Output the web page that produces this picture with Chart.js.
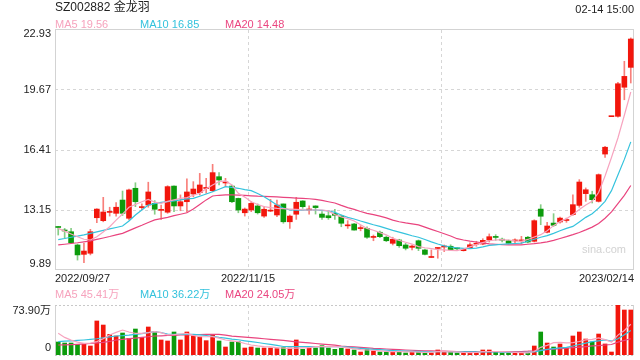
<!DOCTYPE html>
<html lang="zh-CN">
  <head>
    <meta charset="UTF-8" />
    <title>SZ002882 金龙羽</title>
    <script src="https://cdn.jsdelivr.net/npm/chart.js"></script>
    <style>
      body {
        margin: 0;
        background: #fff;
        font-family: "Liberation Sans", Arial, "Noto Sans CJK SC", sans-serif;
      }
      #wrap {
        position: relative;
        width: 640px;
        height: 360px;
        overflow: hidden;
      }
      canvas {
        position: absolute;
        left: 0;
      }
      #kline { top: 0; }
      #vol { top: 290px; }
      .txt {
        position: absolute;
        white-space: nowrap;
        line-height: 14px;
        font-size: 11px;
      }
      .ma5 { color: #f6a3bd; }
      .ma10 { color: #33c2dc; }
      .ma20 { color: #ea4680; }
    </style>
  </head>
  <body>
    <div id="wrap">
      <canvas id="kline" width="640" height="290"></canvas>
      <canvas id="vol" width="640" height="70"></canvas>

      <div class="txt" style="left:55px; top:0px; font-size:12px; color:#222">SZ002882 金龙羽</div>
      <div class="txt" style="right:6px; top:2px; color:#222">02-14 15:00</div>

      <div class="txt ma5" id="lg5" style="left:55px; top:17px"></div>
      <div class="txt ma10" id="lg10" style="left:140px; top:17px"></div>
      <div class="txt ma20" id="lg20" style="left:225px; top:17px"></div>

      <div class="txt ma5" id="vlg5" style="left:55px; top:287px"></div>
      <div class="txt ma10" id="vlg10" style="left:140px; top:287px"></div>
      <div class="txt ma20" id="vlg20" style="left:225px; top:287px"></div>

      <div class="txt" style="left:582px; top:242px; color:#d2d2d2; font-size:11px">sina.com</div>
    </div>

    <script>
      // trading days shown
      const dates = [
        "2022/09/27","2022/09/28","2022/09/29","2022/09/30",
        "2022/10/10","2022/10/11","2022/10/12","2022/10/13","2022/10/14",
        "2022/10/17","2022/10/18","2022/10/19","2022/10/20","2022/10/21",
        "2022/10/24","2022/10/25","2022/10/26","2022/10/27","2022/10/28","2022/10/31",
        "2022/11/01","2022/11/02","2022/11/03","2022/11/04",
        "2022/11/07","2022/11/08","2022/11/09","2022/11/10","2022/11/11",
        "2022/11/14","2022/11/15","2022/11/16","2022/11/17","2022/11/18",
        "2022/11/21","2022/11/22","2022/11/23","2022/11/24","2022/11/25",
        "2022/11/28","2022/11/29","2022/11/30",
        "2022/12/01","2022/12/02",
        "2022/12/05","2022/12/06","2022/12/07","2022/12/08","2022/12/09",
        "2022/12/12","2022/12/13","2022/12/14","2022/12/15","2022/12/16",
        "2022/12/19","2022/12/20","2022/12/21","2022/12/22","2022/12/23",
        "2022/12/26","2022/12/27","2022/12/28","2022/12/29","2022/12/30",
        "2023/01/03","2023/01/04","2023/01/05","2023/01/06",
        "2023/01/09","2023/01/10","2023/01/11","2023/01/12","2023/01/13",
        "2023/01/16","2023/01/17","2023/01/18","2023/01/19","2023/01/20",
        "2023/01/30","2023/01/31",
        "2023/02/01","2023/02/02","2023/02/03",
        "2023/02/06","2023/02/07","2023/02/08","2023/02/09","2023/02/10",
        "2023/02/13","2023/02/14"
      ];

      const open = [
        12.25,12.03,11.97,11.25,10.74,10.80,12.73,12.57,13.02,12.97,
        13.69,12.70,14.33,13.28,13.42,13.51,13.13,13.03,14.45,13.37,
        13.60,14.02,14.09,14.32,14.20,14.96,14.62,14.45,13.78,13.00,
        13.15,13.37,12.82,13.09,12.88,13.48,12.51,12.92,13.64,13.15,
        13.37,12.93,12.84,12.97,12.82,12.29,12.39,12.14,12.15,11.66,
        11.94,11.67,11.34,11.52,11.25,11.12,11.48,10.98,10.57,11.06,
        11.14,11.18,11.06,10.94,11.08,11.29,11.30,11.52,11.68,11.53,
        11.48,11.47,11.47,11.67,11.45,13.20,11.94,12.44,12.50,12.58,
        12.90,13.40,14.04,13.98,13.62,16.19,18.22,18.24,19.82,20.90
      ];
      const high = [
        12.26,12.15,12.15,11.30,11.34,12.10,13.22,13.84,13.30,13.55,
        14.18,14.29,14.63,13.48,14.66,13.66,13.42,14.47,14.47,13.97,
        14.85,14.69,15.14,14.87,15.63,15.18,14.87,14.51,13.80,13.26,
        13.60,13.48,13.33,13.73,13.69,13.48,12.88,13.84,13.66,13.37,
        13.38,13.06,13.10,13.19,12.88,12.57,12.43,12.30,12.24,11.79,
        12.01,11.74,11.67,11.56,11.34,11.25,11.52,11.03,10.98,11.10,
        11.25,11.26,11.10,11.05,11.36,11.45,11.59,11.85,11.81,11.63,
        11.52,11.59,11.72,11.72,12.62,13.44,12.48,12.95,12.77,12.71,
        13.98,14.80,14.35,14.17,15.11,16.61,18.24,20.09,21.23,22.50
      ];
      const low = [
        11.79,11.61,11.33,10.43,10.29,10.71,12.46,12.51,12.82,12.82,
        12.85,12.61,13.33,13.15,13.30,12.92,12.64,12.97,13.06,13.11,
        13.03,13.87,13.97,14.06,14.14,14.51,14.42,13.55,13.00,12.82,
        13.06,12.93,12.75,13.06,12.79,12.43,12.15,12.64,13.24,12.93,
        12.93,12.64,12.64,12.64,12.24,12.15,12.05,12.02,11.61,11.48,
        11.65,11.43,11.25,11.12,10.98,10.98,10.94,10.71,10.57,10.53,
        10.89,10.94,10.99,10.92,11.05,11.18,11.26,11.41,11.50,11.41,
        11.30,11.36,11.30,11.36,11.41,12.35,11.90,12.26,12.44,12.48,
        12.86,13.30,13.62,13.53,13.58,16.01,18.22,18.20,19.14,20.05
      ];
      const close = [
        12.20,12.01,11.37,10.71,10.92,11.97,13.20,13.04,13.05,13.30,
        12.97,14.24,13.60,13.31,14.13,13.19,13.16,14.42,13.37,13.60,
        14.13,14.29,14.51,14.35,15.18,14.78,14.64,13.60,13.15,13.20,
        13.51,13.00,13.19,13.11,13.42,12.51,12.82,13.57,13.33,13.17,
        13.28,12.75,12.73,12.86,12.43,12.31,12.06,12.16,11.67,11.68,
        11.70,11.48,11.56,11.21,11.07,11.19,11.07,10.74,10.58,11.08,
        11.16,10.99,11.04,11.01,11.26,11.31,11.50,11.70,11.66,11.51,
        11.34,11.49,11.50,11.41,12.57,12.81,12.28,12.32,12.71,12.60,
        13.44,14.67,14.25,13.71,15.07,16.56,18.24,20.01,20.41,22.44
      ];

      const ma5 = [
        12.15,12.00,11.85,11.70,11.56,11.52,11.70,11.95,12.24,12.60,
        12.93,13.30,13.45,13.60,13.72,13.58,13.51,13.62,13.70,13.78,
        13.82,13.95,14.06,14.30,14.51,14.69,14.73,14.51,14.06,13.85,
        13.60,13.45,13.33,13.28,13.24,13.22,13.20,13.18,13.16,13.15,
        13.15,13.15,13.10,12.90,12.78,12.68,12.55,12.35,12.15,12.05,
        11.92,11.80,11.61,11.50,11.40,11.30,11.16,11.10,11.05,11.00,
        10.98,10.96,10.94,11.03,11.15,11.27,11.38,11.48,11.52,11.54,
        11.52,11.48,11.45,11.55,11.68,11.81,12.02,12.30,12.52,12.68,
        12.90,13.18,13.42,13.62,14.10,15.00,16.00,17.06,18.30,19.56
      ];
      const ma10 = [
        11.54,11.60,11.67,11.73,11.80,11.88,11.96,12.04,12.12,12.20,
        12.28,12.55,12.88,13.15,13.42,13.50,13.56,13.60,13.65,13.70,
        13.75,13.78,13.90,14.02,14.14,14.28,14.42,14.38,14.33,14.26,
        14.20,14.05,13.87,13.65,13.42,13.25,13.15,13.14,13.14,13.15,
        13.15,13.13,13.10,13.02,12.88,12.75,12.66,12.55,12.45,12.35,
        12.26,12.15,12.04,11.95,11.85,11.75,11.67,11.55,11.42,11.30,
        11.20,11.14,11.09,11.07,11.05,11.08,11.15,11.23,11.26,11.29,
        11.31,11.33,11.35,11.45,11.56,11.67,11.76,11.88,12.02,12.15,
        12.26,12.50,12.75,12.95,13.25,13.62,14.20,15.05,15.90,16.85
      ];
      const ma20 = [
        11.25,11.29,11.33,11.37,11.42,11.47,11.55,11.63,11.71,11.80,
        11.88,12.03,12.18,12.32,12.47,12.61,12.68,12.75,12.84,12.92,
        13.00,13.20,13.45,13.70,13.91,13.95,13.97,13.97,13.96,13.94,
        13.92,13.90,13.89,13.88,13.86,13.84,13.82,13.80,13.78,13.76,
        13.73,13.67,13.60,13.53,13.40,13.28,13.18,13.07,12.97,12.90,
        12.82,12.72,12.60,12.51,12.45,12.40,12.34,12.22,12.10,11.98,
        11.86,11.74,11.59,11.52,11.46,11.41,11.36,11.31,11.29,11.27,
        11.26,11.26,11.26,11.29,11.32,11.36,11.42,11.50,11.60,11.70,
        11.81,11.93,12.07,12.22,12.42,12.70,13.05,13.50,13.95,14.48
      ];

      // volume, in 万
      const volume = [
        19.2,17.7,17.7,15.8,16.3,13.3,50.3,44.3,30.5,28.1,
        32.5,24.6,38.4,26.1,41.4,34.5,22.2,20.7,34.0,22.2,
        34.0,28.1,26.6,21.2,30.0,20.7,11.8,19.2,19.7,10.3,
        11.8,10.3,10.3,10.3,9.4,10.8,10.3,22.2,8.4,10.3,
        10.3,13.8,10.3,8.4,9.9,8.9,7.4,4.4,8.9,5.9,
        4.4,4.4,4.4,4.4,3.0,4.4,4.4,3.0,3.0,7.4,
        4.4,4.4,3.0,3.0,3.0,3.0,7.4,7.4,4.4,3.0,
        3.0,3.0,3.0,3.0,13.3,34.0,17.7,11.8,16.3,10.3,
        28.1,34.0,23.6,19.2,31.0,16.3,4.4,73.9,66.5,66.5
      ];
      const volMa5 = [
        32.0,26.0,22.0,19.0,17.2,17.5,19.7,24.0,29.6,33.5,
        36.9,34.0,32.0,32.0,33.0,34.5,33.0,29.6,30.0,31.0,
        32.0,29.0,27.1,27.0,27.1,25.0,22.2,21.0,19.7,17.0,
        14.8,13.5,12.5,12.0,11.0,10.0,9.9,10.2,10.5,11.0,
        12.3,12.3,12.3,12.3,12.0,10.5,9.2,8.0,7.4,7.0,
        6.2,5.5,5.0,4.9,4.8,4.6,4.3,3.9,4.3,4.9,
        4.9,4.6,4.5,3.8,3.4,4.0,4.9,5.2,5.2,4.9,
        4.6,4.0,3.4,3.0,5.1,11.3,14.2,18.2,18.8,18.0,
        18.2,20.0,22.4,23.2,25.2,22.8,19.0,29.4,36.2,45.41
      ];
      const volMa10 = [
        19.7,20.5,21.0,21.6,22.2,23.0,24.0,25.5,26.8,28.1,
        28.5,29.3,30.5,31.5,33.0,34.5,33.0,31.0,30.5,30.5,
        30.5,30.5,29.8,28.8,27.5,26.0,25.0,23.5,22.5,21.0,
        19.7,18.5,17.0,15.6,14.2,12.6,12.3,12.3,12.3,12.3,
        12.3,12.3,12.3,12.3,12.3,11.5,10.6,9.8,9.0,8.3,
        7.8,7.2,6.6,6.2,5.8,5.5,5.3,5.1,5.0,4.9,
        4.9,4.8,4.6,4.5,4.6,4.6,4.5,4.5,4.4,4.1,
        3.9,3.9,3.9,4.1,4.7,6.5,8.4,9.5,10.6,11.4,
        13.3,15.5,17.5,19.7,21.0,22.2,20.5,24.0,29.8,36.22
      ];
      const volMa20 = [
        14.8,15.1,15.4,15.8,16.3,17.0,17.9,18.8,20.0,22.2,
        23.0,24.1,25.0,26.0,27.0,28.1,28.4,28.8,29.1,29.6,
        29.8,30.0,30.3,30.5,30.5,30.5,29.5,28.0,27.1,26.3,
        25.6,24.9,24.0,23.2,22.4,21.5,20.5,19.5,18.6,17.9,
        17.0,16.2,15.4,14.6,13.3,12.6,12.0,11.4,10.7,9.9,
        9.4,8.9,8.4,7.9,7.4,7.0,6.6,6.3,6.0,5.9,
        5.6,5.4,5.2,5.0,4.9,4.9,4.9,4.9,4.9,4.9,
        4.9,5.0,5.2,5.6,6.3,7.4,8.0,8.6,9.4,10.0,
        10.8,11.6,12.5,13.4,14.0,14.8,15.5,19.0,21.5,24.05
      ];

      const priceTicks = [9.89, 13.15, 16.41, 19.67, 22.93];
      const volTicks = [0, 73.9];
      const volTickLabels = ["0", "73.90万"];
      const dateTicks = ["2022/09/27", "2022/11/15", "2022/12/27", "2023/02/14"];

      const RED = "#f2160c";
      const GREEN = "#0c9b0c";
      const RED_WICK = "rgba(242,22,12,0.55)";
      const GREEN_WICK = "rgba(12,155,12,0.5)";
      const C_MA5 = "#f7a4bf";
      const C_MA10 = "#35c3dd";
      const C_MA20 = "#e9447e";

      const isUp = (i) => close[i] >= open[i];
      const last = (a) => a[a.length - 1];

      document.getElementById("lg5").textContent = "MA5 " + last(ma5).toFixed(2);
      document.getElementById("lg10").textContent = "MA10 " + last(ma10).toFixed(2);
      document.getElementById("lg20").textContent = "MA20 " + last(ma20).toFixed(2);
      document.getElementById("vlg5").textContent = "MA5 " + last(volMa5).toFixed(2) + "万";
      document.getElementById("vlg10").textContent = "MA10 " + last(volMa10).toFixed(2) + "万";
      document.getElementById("vlg20").textContent = "MA20 " + last(volMa20).toFixed(2) + "万";

      const FONT = '11px "Liberation Sans", Arial, sans-serif';

      function maLine(label, data, color) {
        return {
          type: "line",
          label: label,
          data: data,
          borderColor: color,
          borderWidth: 1.2,
          pointRadius: 0,
          tension: 0,
          order: 0,
        };
      }

      // frame + axis text for the price panel
      const klineFrame = {
        id: "klineFrame",
        beforeDatasetsDraw(chart) {
          const { ctx, chartArea: a } = chart;
          ctx.save();
          ctx.strokeStyle = "#d3d3d3";
          ctx.lineWidth = 1;
          ctx.strokeRect(a.left + 0.5, a.top - 0.5, a.right - a.left - 1, a.bottom - a.top);
          ctx.restore();
        },
        afterDraw(chart) {
          const { ctx, chartArea: a } = chart;
          const y = chart.scales.y;
          const x = chart.scales.x;
          ctx.save();
          ctx.font = FONT;
          ctx.fillStyle = "#222";
          ctx.textAlign = "right";
          ctx.textBaseline = "middle";
          priceTicks.forEach((v, i) => {
            let py = y.getPixelForValue(v);
            if (i === priceTicks.length - 1) py += 4;
            if (i === 0) py -= 6;
            ctx.fillText(v.toFixed(2), a.left - 4, py);
          });
          const half = (a.right - a.left) / dates.length / 2;
          dateTicks.forEach((d, i) => {
            const idx = dates.indexOf(d);
            let px = x.getPixelForValue(idx) - half;
            if (i === 0) { ctx.textAlign = "left"; px = a.left; }
            else if (i === dateTicks.length - 1) { ctx.textAlign = "right"; px = a.right; }
            else ctx.textAlign = "center";
            ctx.fillText(d, px, a.bottom + 9);
          });
          ctx.restore();
        },
      };

      const volFrame = {
        id: "volFrame",
        beforeDatasetsDraw(chart) {
          const { ctx, chartArea: a } = chart;
          ctx.save();
          ctx.strokeStyle = "#d3d3d3";
          ctx.lineWidth = 1;
          ctx.beginPath();
          ctx.moveTo(a.left + 0.5, a.top);
          ctx.lineTo(a.left + 0.5, a.bottom);
          ctx.moveTo(a.right - 0.5, a.top);
          ctx.lineTo(a.right - 0.5, a.bottom);
          ctx.stroke();
          ctx.setLineDash([2, 2]);
          ctx.strokeStyle = "#c8c8c8";
          ctx.beginPath();
          ctx.moveTo(a.left, a.top + 0.5);
          ctx.lineTo(a.right, a.top + 0.5);
          ctx.moveTo(a.left, a.bottom + 0.5);
          ctx.lineTo(a.right, a.bottom + 0.5);
          ctx.stroke();
          ctx.restore();
        },
        afterDraw(chart) {
          const { ctx, chartArea: a } = chart;
          const y = chart.scales.y;
          ctx.save();
          ctx.font = FONT;
          ctx.fillStyle = "#222";
          ctx.textAlign = "right";
          ctx.textBaseline = "middle";
          volTicks.forEach((v, i) => {
            let py = y.getPixelForValue(v);
            if (i === 0) py -= 7;
            else py += 6;
            ctx.fillText(volTickLabels[i], a.left - 4, py);
          });
          ctx.restore();
        },
      };

      // vertical dashed lines sit on the left edge of these days
      const gridIdx = dateTicks.slice(1, -1).map((d) => dates.indexOf(d));

      function xScale() {
        return {
          offset: true,
          grid: {
            offset: true,
            drawTicks: false,
            lineWidth: 1,
            color: (c) => (gridIdx.includes(c.index) ? "#d6d6d6" : "rgba(0,0,0,0)"),
          },
          border: { display: false, dash: [3, 3] },
          ticks: { display: false, autoSkip: false },
        };
      }

      new Chart(document.getElementById("kline"), {
        type: "bar",
        data: {
          labels: dates,
          datasets: [
            maLine("MA5", ma5, C_MA5),
            maLine("MA10", ma10, C_MA10),
            maLine("MA20", ma20, C_MA20),
            {
              label: "body",
              data: dates.map((d, i) => [open[i], close[i]]),
              backgroundColor: dates.map((d, i) => (isUp(i) ? RED : GREEN)),
              barThickness: 5,
              minBarLength: 1,
              grouped: false,
              order: 1,
            },
            {
              label: "wick",
              data: dates.map((d, i) => [low[i], high[i]]),
              backgroundColor: dates.map((d, i) => (isUp(i) ? RED_WICK : GREEN_WICK)),
              barThickness: 1,
              grouped: false,
              order: 2,
            },
          ],
        },
        options: {
          responsive: false,
          animation: false,
          layout: { padding: { left: 55, right: 6, top: 30, bottom: 20 } },
          plugins: { legend: { display: false }, tooltip: { enabled: false } },
          scales: {
            x: xScale(),
            y: {
              min: priceTicks[0],
              max: last(priceTicks),
              ticks: { display: false },
              border: { display: false, dash: [3, 3] },
              grid: {
                drawTicks: false,
                color: (c) =>
                  c.index === 0 || c.index === priceTicks.length - 1 ? "rgba(0,0,0,0)" : "#d6d6d6",
              },
              afterBuildTicks: (s) => {
                s.ticks = priceTicks.map((v) => ({ value: v }));
              },
            },
          },
        },
        plugins: [klineFrame],
      });

      new Chart(document.getElementById("vol"), {
        type: "bar",
        data: {
          labels: dates,
          datasets: [
            maLine("MA5", volMa5, C_MA5),
            maLine("MA10", volMa10, C_MA10),
            maLine("MA20", volMa20, C_MA20),
            {
              label: "volume",
              data: volume,
              backgroundColor: dates.map((d, i) => (isUp(i) ? RED : GREEN)),
              barThickness: 4,
              order: 1,
            },
          ],
        },
        options: {
          responsive: false,
          animation: false,
          layout: { padding: { left: 55, right: 6, top: 15, bottom: 5 } },
          plugins: { legend: { display: false }, tooltip: { enabled: false } },
          scales: {
            x: xScale(),
            y: {
              min: volTicks[0],
              max: last(volTicks),
              display: false,
            },
          },
        },
        plugins: [volFrame],
      });
    </script>
  </body>
</html>
